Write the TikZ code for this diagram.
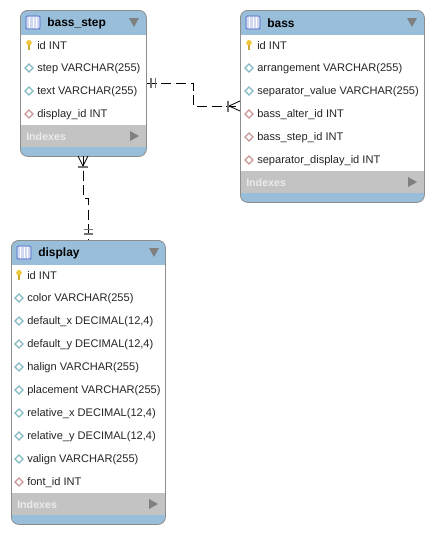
\documentclass[tikz,border=0pt]{standalone}
\usepackage{fontspec}
\setmainfont{Liberation Sans}
\usetikzlibrary{positioning}

\definecolor{headblue}{RGB}{152, 190, 218}
\definecolor{indexgray}{RGB}{195, 195, 195}
\definecolor{framegray}{RGB}{140, 140, 140}
\definecolor{tealkey}{RGB}{130, 185, 195}
\definecolor{redkey}{RGB}{200, 150, 150}
\definecolor{keyyellow}{RGB}{240, 200, 60}
\definecolor{iconblue}{RGB}{70, 100, 200}

\tikzset{
    tablebox/.style={draw=framegray, fill=headblue, rounded corners=5.5pt, line width=0.6pt, minimum width=#1, inner sep=0pt},
    rowlabel/.style={anchor=west, inner sep=0pt, yshift=-0.75pt, font=\fontsize{8.3}{10}\selectfont, text=black!85},
    titlelabel/.style={anchor=west, inner sep=0pt, yshift=-0.75pt, font=\fontsize{9}{11}\selectfont\bfseries},
    indexlabel/.style={anchor=west, inner sep=0pt, yshift=-0.75pt, font=\fontsize{8}{9.6}\selectfont\bfseries, text=white!92!black},
    relline/.style={black, line width=0.75pt, dash pattern=on 7.5pt off 3.5pt},
    relmark/.style={black!55, line width=1.1pt},
    crowline/.style={black, line width=0.6pt}
}

% Diamond and key icons for the columns
\newcommand{\colicon}[3]{\draw[#3, fill=white, line width=0.9pt] (#1-4, #2) -- (#1, #2-4) -- (#1+4, #2) -- (#1, #2+4) -- cycle;}
\newcommand{\keyicon}[2]{
    \fill[keyyellow] (#1, #2-2.2) circle (2.8);
    \fill[keyyellow!85!black] (#1-1, #2) rectangle (#1+1, #2+5);
}
% Table icon of the header
\newcommand{\tableicon}[2]{
    \draw[iconblue, fill=white!75!iconblue, line width=0.6pt, rounded corners=0.8pt] (#1, #2) rectangle +(14, 13);
    \foreach \gx in {3.5, 7, 10.5} {
        \draw[white, line width=0.5pt] (#1+\gx, #2+1) -- (#1+\gx, #2+12);
    }
}

\begin{document}
\begin{tikzpicture}[x=0.75pt, y=-0.75pt]

\useasboundingbox (0, 0) rectangle (433, 533);

% Table bass_step
\node[tablebox=94.5pt, minimum height=109.5pt, anchor=north west] (bassstep) at (20, 10) {};
\fill[white] (20.5, 35) rectangle (145.5, 125);
\fill[indexgray] (20.5, 125) rectangle (145.5, 147);
\draw[framegray, line width=0.6pt] (20, 35) -- (20, 147) (146, 35) -- (146, 147);
\tableicon{26}{16}
\node[titlelabel] (stepTitle) at (47, 22) {bass\_step};
\fill[black!50] (129, 18) -- (139, 18) -- (134, 27) -- cycle;
\keyicon{29}{45}
\node[rowlabel] (stepId) at (37, 45) {id INT};
\colicon{29}{68}{tealkey}
\node[rowlabel] (stepStep) at (37, 68) {step VARCHAR(255)};
\colicon{29}{91}{tealkey}
\node[rowlabel] (stepText) at (37, 91) {text VARCHAR(255)};
\colicon{29}{114}{redkey}
\node[rowlabel] (stepDisplay) at (37, 114) {display\_id INT};
\node[indexlabel] (stepIndexes) at (26, 136) {Indexes};
\fill[black!50] (130, 131) -- (139, 136) -- (130, 141) -- cycle;

% Table bass
\node[tablebox=138pt, minimum height=144pt, anchor=north west] (bass) at (240, 10) {};
\fill[white] (240.5, 35) rectangle (423.5, 171);
\fill[indexgray] (240.5, 171) rectangle (423.5, 193);
\draw[framegray, line width=0.6pt] (240, 35) -- (240, 193) (424, 35) -- (424, 193);
\tableicon{246}{16}
\node[titlelabel] (bassTitle) at (267, 22) {bass};
\fill[black!50] (407, 18) -- (417, 18) -- (412, 27) -- cycle;
\keyicon{249}{45}
\node[rowlabel] (bassId) at (257, 45) {id INT};
\colicon{249}{68}{tealkey}
\node[rowlabel] (bassArr) at (257, 68) {arrangement VARCHAR(255)};
\colicon{249}{91}{tealkey}
\node[rowlabel] (bassSep) at (257, 91) {separator\_value VARCHAR(255)};
\colicon{249}{114}{redkey}
\node[rowlabel] (bassAlter) at (257, 114) {bass\_alter\_id INT};
\colicon{249}{137}{redkey}
\node[rowlabel] (bassStep) at (257, 137) {bass\_step\_id INT};
\colicon{249}{160}{redkey}
\node[rowlabel] (bassDisplay) at (257, 160) {separator\_display\_id INT};
\node[indexlabel] (bassIndexes) at (246, 182) {Indexes};
\fill[black!50] (408, 177) -- (417, 182) -- (408, 187) -- cycle;

% Table display
\node[tablebox=115.5pt, minimum height=213pt, anchor=north west] (display) at (11, 240) {};
\fill[white] (11.5, 265) rectangle (164.5, 493);
\fill[indexgray] (11.5, 493) rectangle (164.5, 515);
\draw[framegray, line width=0.6pt] (11, 265) -- (11, 515) (165, 265) -- (165, 515);
\tableicon{17}{246}
\node[titlelabel] (displayTitle) at (38, 252) {display};
\fill[black!50] (149, 248) -- (159, 248) -- (154, 257) -- cycle;
\keyicon{19}{275}
\node[rowlabel] (displayId) at (27, 275) {id INT};
\foreach \ypos/\nm/\txt in {
    298/Color/{color VARCHAR(255)},
    321/DefX/{default\_x DECIMAL(12,4)},
    344/DefY/{default\_y DECIMAL(12,4)},
    367/Halign/{halign VARCHAR(255)},
    390/Place/{placement VARCHAR(255)},
    413/RelX/{relative\_x DECIMAL(12,4)},
    436/RelY/{relative\_y DECIMAL(12,4)},
    459/Valign/{valign VARCHAR(255)}} {
    \colicon{19}{\ypos}{tealkey}
    \node[rowlabel] (display\nm) at (27, \ypos) {\txt};
}
\colicon{19}{482}{redkey}
\node[rowlabel] (displayFont) at (27, 482) {font\_id INT};
\node[indexlabel] (displayIndexes) at (17, 504) {Indexes};
\fill[black!50] (149, 499) -- (158, 504) -- (149, 509) -- cycle;

% Relation bass_step to bass
\coordinate (stepOut) at (bassstep.north east |- 0, 83);
\coordinate (bassIn) at (bass.north west |- 0, 106);
\coordinate (hbendA) at (193, 83);
\coordinate (hbendB) at (193, 106);
\draw[relline] (stepOut) -- (hbendA) -- (hbendB) -- (bassIn);
\draw[relmark] (151, 78) -- (151, 88) (155.5, 78) -- (155.5, 88);
\draw[relmark] (228, 100.5) -- (228, 111.5);
\draw[crowline] (229, 106) -- (bassIn |- 0, 101) (229, 106) -- (bassIn |- 0, 111);

% Relation bass_step to display
\coordinate (stepDown) at (83, 156);
\coordinate (displayUp) at (88, 240);
\coordinate (vbendA) at (83, 198);
\coordinate (vbendB) at (88, 198);
\draw[relline] (stepDown) -- (vbendA) -- (vbendB) -- (displayUp);
\draw[relmark] (78, 167) -- (88, 167);
\draw[crowline] (83, 166) -- (78, 156) (83, 166) -- (88, 156);
\draw[relmark] (83.5, 229.5) -- (92.5, 229.5) (83.5, 234) -- (92.5, 234);

\end{tikzpicture}
\end{document}
